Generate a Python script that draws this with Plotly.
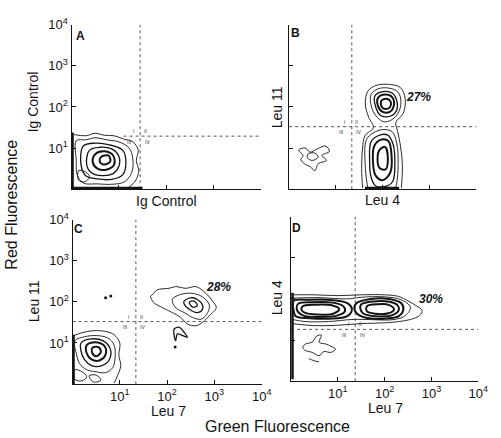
import numpy as np
import plotly.graph_objects as go

# ---------------- data (log10 fluorescence, decades) ----------------
PANELS = ["A", "B", "C", "D"]
X_TITLES = ["Ig Control", "Leu 4", "Leu 7", "Leu 7"]
Y_TITLES = ["Ig Control", "Leu 11", "Leu 11", "Leu 4"]
PERCENTS = ["", "27%", "28%", "30%"]
GATE_X = [1.45, 1.34, 1.34, 1.37]
GATE_Y = [1.29, 1.52, 1.52, 1.26]
GATE_H_START = [1.1, 0.0, 0.0, 0.0]
TICK_VALS = [10, 100, 1000, 10000]
TICK_TEXT = ["10<sup>1</sup>", "10<sup>2</sup>", "10<sup>3</sup>", "10<sup>4</sup>"]
QUAD_LABELS = ["I", "II", "III", "IV"]

# Panel A: Ig control / Ig control
A_R1 = [(0.04, 1.33), (0.3, 1.3), (0.5, 1.36), (0.7, 1.31), (0.9, 1.3), (1.1, 1.22), (1.3, 1.15),
        (1.41, 0.95), (1.37, 0.7), (1.42, 0.45), (1.35, 0.2), (1.22, 0.06)]
A_R2 = [(0.1, 1.18), (0.3, 1.2), (0.5, 1.25), (0.75, 1.2), (1.0, 1.15), (1.22, 1.0), (1.3, 0.7),
        (1.27, 0.4), (1.12, 0.18), (0.85, 0.12), (0.55, 0.13), (0.25, 0.15), (0.12, 0.35),
        (0.1, 0.7), (0.1, 1.18)]
A_R3 = [(0.25, 1.05), (0.5, 1.12), (0.8, 1.08), (1.08, 0.95), (1.15, 0.65), (1.08, 0.35),
        (0.85, 0.24), (0.55, 0.25), (0.3, 0.33), (0.2, 0.6), (0.25, 1.05)]
A_R4 = [(0.38, 0.95), (0.6, 1.02), (0.85, 0.98), (1.0, 0.8), (1.0, 0.55), (0.88, 0.38),
        (0.65, 0.33), (0.42, 0.4), (0.32, 0.6), (0.38, 0.95)]
A_R5 = [(0.5, 0.85), (0.7, 0.92), (0.88, 0.82), (0.9, 0.6), (0.75, 0.48), (0.55, 0.5),
        (0.45, 0.65), (0.5, 0.85)]
A_R6 = [(0.62, 0.78), (0.78, 0.82), (0.82, 0.68), (0.7, 0.6), (0.6, 0.66), (0.62, 0.78)]
A_R7 = [(0.15, 0.45), (0.3, 0.42), (0.38, 0.3), (0.28, 0.18), (0.15, 0.22), (0.15, 0.45)]
A_PILE_BOTTOM = [(0.0, 0.03), (1.5, 0.03)]
A_PILE_LEFT = [(0.02, 0.0), (0.02, 1.38)]

# Panel B: Leu 4 / Leu 11
B_OUTER = [(1.57, 0.03), (1.55, 0.5), (1.57, 1.0), (1.62, 1.3), (1.8, 1.5), (1.7, 1.75),
           (1.63, 2.05), (1.68, 2.38), (1.85, 2.52), (2.12, 2.55), (2.38, 2.47), (2.48, 2.2),
           (2.44, 1.85), (2.28, 1.62), (2.32, 1.4), (2.38, 1.05), (2.42, 0.6), (2.4, 0.03)]
B_U2 = [(1.75, 2.3), (1.9, 2.44), (2.12, 2.46), (2.33, 2.36), (2.39, 2.1), (2.33, 1.85),
        (2.18, 1.68), (2.02, 1.64), (1.86, 1.78), (1.76, 2.0), (1.75, 2.3)]
B_U3 = [(1.83, 2.26), (2.0, 2.37), (2.2, 2.34), (2.31, 2.1), (2.27, 1.86), (2.1, 1.76),
        (1.95, 1.8), (1.85, 2.0), (1.83, 2.26)]
B_U4 = [(1.9, 2.22), (2.05, 2.3), (2.2, 2.24), (2.24, 2.05), (2.15, 1.88), (2.0, 1.88),
        (1.9, 2.02), (1.9, 2.22)]
B_U5 = [(1.97, 2.15), (2.08, 2.2), (2.17, 2.13), (2.16, 2.0), (2.07, 1.95), (1.98, 2.0),
        (1.97, 2.15)]
B_L2 = [(1.68, 0.03), (1.63, 0.5), (1.65, 1.2), (1.8, 1.37), (2.0, 1.45), (2.2, 1.4),
        (2.3, 1.12), (2.33, 0.6), (2.3, 0.15), (2.27, 0.03)]
B_L3 = [(1.75, 1.15), (1.9, 1.3), (2.1, 1.32), (2.22, 1.1), (2.26, 0.6), (2.22, 0.2),
        (2.1, 0.08), (1.85, 0.08), (1.75, 0.3), (1.72, 0.7), (1.75, 1.15)]
B_L4 = [(1.82, 1.05), (1.95, 1.2), (2.12, 1.17), (2.19, 0.8), (2.16, 0.4), (2.0, 0.22),
        (1.85, 0.33), (1.79, 0.7), (1.82, 1.05)]
B_L5 = [(1.93, 0.95), (2.05, 1.03), (2.11, 0.75), (2.06, 0.48), (1.93, 0.52), (1.89, 0.75),
        (1.93, 0.95)]
B_S1 = [(0.2, 0.95), (0.35, 1.0), (0.45, 0.9), (0.6, 0.98), (0.78, 1.05), (0.86, 0.92),
        (0.7, 0.82), (0.8, 0.7), (0.62, 0.62), (0.55, 0.45), (0.45, 0.55), (0.35, 0.6),
        (0.25, 0.72), (0.3, 0.82), (0.2, 0.95)]
B_S2 = [(0.4, 0.85), (0.55, 0.88), (0.62, 0.78), (0.5, 0.7), (0.4, 0.75), (0.4, 0.85)]
B_PILE_BOTTOM = [(1.62, 0.03), (2.35, 0.03)]

# Panel C: Leu 7 / Leu 11
C_R1 = [(0.02, 1.18), (0.2, 1.25), (0.45, 1.3), (0.7, 1.28), (0.88, 1.2), (1.0, 1.0),
        (0.98, 0.7), (1.02, 0.45), (0.95, 0.2), (0.88, 0.03)]
C_R2 = [(0.05, 1.05), (0.25, 1.15), (0.5, 1.18), (0.75, 1.12), (0.88, 0.95), (0.9, 0.65),
        (0.85, 0.4), (0.7, 0.28), (0.5, 0.3), (0.3, 0.35), (0.15, 0.5), (0.08, 0.75),
        (0.05, 1.05)]
C_R3 = [(0.18, 1.0), (0.4, 1.1), (0.65, 1.05), (0.8, 0.85), (0.78, 0.6), (0.62, 0.45),
        (0.4, 0.45), (0.25, 0.6), (0.18, 0.8), (0.18, 1.0)]
C_R4 = [(0.3, 0.95), (0.5, 1.02), (0.68, 0.92), (0.7, 0.72), (0.58, 0.58), (0.4, 0.6),
        (0.3, 0.75), (0.3, 0.95)]
C_R5 = [(0.42, 0.88), (0.55, 0.9), (0.6, 0.78), (0.5, 0.68), (0.42, 0.75), (0.42, 0.88)]
C_R6 = [(0.05, 0.35), (0.2, 0.3), (0.3, 0.18), (0.2, 0.08), (0.05, 0.12), (0.05, 0.35)]
C_R7 = [(0.35, 0.2), (0.5, 0.22), (0.6, 0.1), (0.45, 0.05), (0.35, 0.2)]
C_U1 = [(1.69, 2.17), (1.79, 2.29), (2.04, 2.33), (2.18, 2.37), (2.4, 2.33), (2.61, 2.37),
        (2.82, 2.21), (2.96, 2.02), (3.04, 1.86), (2.89, 1.66), (2.75, 1.5), (2.61, 1.42),
        (2.43, 1.46), (2.29, 1.62), (2.11, 1.74), (1.9, 1.86), (1.72, 1.98), (1.65, 2.14),
        (1.69, 2.17)]
C_U2 = [(2.11, 2.06), (2.26, 2.17), (2.5, 2.21), (2.72, 2.14), (2.89, 1.94), (2.86, 1.74),
        (2.72, 1.58), (2.54, 1.62), (2.36, 1.74), (2.18, 1.86), (2.11, 2.06)]
C_U3 = [(2.36, 2.02), (2.54, 2.1), (2.72, 1.98), (2.75, 1.82), (2.64, 1.74), (2.47, 1.82),
        (2.36, 1.95), (2.36, 2.02)]
C_U4 = [(2.47, 1.99), (2.57, 2.02), (2.64, 1.91), (2.54, 1.87), (2.47, 1.99)]
C_S1 = [(2.15, 1.34), (2.26, 1.38), (2.36, 1.26), (2.43, 1.14), (2.33, 1.18), (2.22, 1.22),
        (2.18, 1.06), (2.15, 1.18), (2.15, 1.34)]
C_DOTS = [(0.7, 2.1), (0.81, 2.14), (2.17, 0.9)]
C_PILE_LEFT = [(0.02, 0.0), (0.02, 1.2)]

# Panel D: Leu 7 / Leu 4
D_R1 = [(0.02, 2.1), (0.5, 2.1), (1.0, 2.08), (1.5, 2.1), (2.0, 2.1), (2.3, 2.06),
        (2.5, 1.95), (2.65, 1.85), (2.8, 1.72), (2.75, 1.6), (2.55, 1.5), (2.3, 1.45),
        (2.0, 1.42), (1.5, 1.4), (1.0, 1.36), (0.5, 1.35), (0.02, 1.4)]
D_R2 = [(0.03, 2.02), (0.6, 2.03), (1.2, 2.0), (1.5, 2.04), (2.0, 2.05), (2.35, 1.98),
        (2.55, 1.8), (2.45, 1.6), (2.2, 1.5), (1.6, 1.5), (1.3, 1.5), (0.8, 1.45),
        (0.3, 1.45), (0.03, 1.5)]
D_L3 = [(0.05, 1.95), (0.4, 1.98), (0.9, 1.97), (1.2, 1.9), (1.3, 1.75), (1.2, 1.58),
        (0.8, 1.52), (0.4, 1.53), (0.1, 1.58), (0.05, 1.75), (0.05, 1.95)]
D_L4 = [(0.15, 1.88), (0.45, 1.92), (0.88, 1.91), (1.12, 1.82), (1.15, 1.7), (1.0, 1.6),
        (0.6, 1.56), (0.25, 1.6), (0.13, 1.72), (0.15, 1.88)]
D_L5 = [(0.25, 1.82), (0.5, 1.86), (0.85, 1.85), (1.03, 1.75), (0.9, 1.64), (0.55, 1.62),
        (0.3, 1.66), (0.22, 1.74), (0.25, 1.82)]
D_R3 = [(1.4, 1.9), (1.7, 2.0), (2.1, 2.0), (2.35, 1.9), (2.4, 1.75), (2.3, 1.58),
        (2.0, 1.52), (1.6, 1.54), (1.4, 1.65), (1.35, 1.78), (1.4, 1.9)]
D_R4 = [(1.5, 1.87), (1.75, 1.94), (2.1, 1.93), (2.28, 1.84), (2.3, 1.72), (2.15, 1.6),
        (1.8, 1.58), (1.55, 1.64), (1.48, 1.76), (1.5, 1.87)]
D_R5 = [(1.62, 1.82), (1.85, 1.87), (2.1, 1.85), (2.2, 1.75), (2.08, 1.65), (1.8, 1.64),
        (1.62, 1.7), (1.62, 1.82)]
D_S1 = [(0.3, 0.9), (0.45, 0.95), (0.55, 1.1), (0.65, 1.12), (0.6, 0.95), (0.75, 0.9),
        (0.85, 0.85), (0.95, 0.78), (0.85, 0.7), (0.7, 0.72), (0.6, 0.62), (0.45, 0.7),
        (0.3, 0.75), (0.25, 0.82), (0.3, 0.9)]
D_S2 = [(0.38, 0.55), (0.48, 0.5), (0.6, 0.47)]
D_PILE_LEFT = [(0.03, 0.05), (0.03, 2.15)]

# (panel index, contour, density level) ; level -> line weight
CONTOURS = [
    (0, A_R1, 1), (0, A_R2, 1), (0, A_R3, 2), (0, A_R4, 2), (0, A_R5, 3), (0, A_R6, 3), (0, A_R7, 1),
    (1, B_OUTER, 1), (1, B_U2, 1), (1, B_U3, 2), (1, B_U4, 3), (1, B_U5, 3),
    (1, B_L2, 1), (1, B_L3, 2), (1, B_L4, 3), (1, B_L5, 3), (1, B_S1, 1), (1, B_S2, 1),
    (2, C_R1, 1), (2, C_R2, 1), (2, C_R3, 2), (2, C_R4, 3), (2, C_R5, 3), (2, C_R6, 1), (2, C_R7, 1),
    (2, C_U1, 1), (2, C_U2, 1), (2, C_U3, 2), (2, C_U4, 2), (2, C_S1, 2),
    (3, D_R1, 1), (3, D_R2, 1), (3, D_L3, 3), (3, D_L4, 3), (3, D_L5, 3),
    (3, D_R3, 3), (3, D_R4, 3), (3, D_R5, 3), (3, D_S1, 1), (3, D_S2, 1),
]
PILEUPS = [(0, A_PILE_BOTTOM), (0, A_PILE_LEFT), (1, B_PILE_BOTTOM), (2, C_PILE_LEFT), (3, D_PILE_LEFT)]
DOTS = [(2, C_DOTS)]

# ---------------- styling / layout ----------------
FONT = "Liberation Sans Narrow, Liberation Sans, Arial, sans-serif"
INK = "#141414"
W, H = 501, 438
WIDTH_BY_LEVEL = {1: 0.9, 2: 1.3, 3: 2.0}

# plot boxes in pixels: (left, right, top, bottom)
BOXES = [(73, 266, 16, 184), (295, 486, 16, 184), (74, 267, 215, 383), (297, 488, 212, 380)]

fig = go.Figure()


def axref(i):
    return ("x" if i == 0 else f"x{i+1}", "y" if i == 0 else f"y{i+1}")


def add_line(i, pts, width, dash=None, shape="spline", color=INK):
    xr, yr = axref(i)
    xs = 10 ** np.array([p[0] for p in pts])
    ys = 10 ** np.array([p[1] for p in pts])
    fig.add_trace(go.Scatter(x=xs, y=ys, xaxis=xr, yaxis=yr, mode="lines",
                             line=dict(color=color, width=width, dash=dash, shape=shape,
                                       smoothing=1.0 if shape == "spline" else None),
                             hoverinfo="skip", showlegend=False))


for i in range(4):
    add_line(i, [(GATE_X[i], 0.0), (GATE_X[i], 4.0)], 1.0, dash="dot", shape="linear", color="#555")
    add_line(i, [(GATE_H_START[i], GATE_Y[i]), (4.0, GATE_Y[i])], 1.0, dash="dot", shape="linear", color="#555")

for i, pts, lvl in CONTOURS:
    add_line(i, pts, WIDTH_BY_LEVEL[lvl])

for i, pts in PILEUPS:
    add_line(i, pts, 2.6, shape="linear")

for i, pts in DOTS:
    xr, yr = axref(i)
    fig.add_trace(go.Scatter(x=10 ** np.array([p[0] for p in pts]), y=10 ** np.array([p[1] for p in pts]),
                             xaxis=xr, yaxis=yr, mode="markers",
                             marker=dict(color=INK, size=3), hoverinfo="skip", showlegend=False))

layout = dict(width=W, height=H, margin=dict(l=0, r=0, t=0, b=0),
              paper_bgcolor="white", plot_bgcolor="white",
              font=dict(family=FONT, color=INK, size=12), showlegend=False)

show_x_labels = [False, False, True, True]
show_y_labels = [True, False, True, False]
for i, (l, r, t, b) in enumerate(BOXES):
    xk = "xaxis" if i == 0 else f"xaxis{i+1}"
    yk = "yaxis" if i == 0 else f"yaxis{i+1}"
    xr, yr = axref(i)
    common = dict(type="log", range=[0, 4], showgrid=False, zeroline=False, showline=True,
                  linecolor=INK, linewidth=1.2, ticks="inside", ticklen=4, tickwidth=1,
                  tickcolor=INK, tickvals=TICK_VALS, ticktext=TICK_TEXT,
                  tickfont=dict(family=FONT, size=13, color=INK), fixedrange=True)
    layout[xk] = dict(common, domain=[l / W, r / W], anchor=yr, showticklabels=show_x_labels[i])
    layout[yk] = dict(common, domain=[1 - b / H, 1 - t / H], anchor=xr, showticklabels=show_y_labels[i])
fig.update_layout(**layout)


def ann(text, px, py, size, angle=0, bold=False, italic=False):
    if bold:
        text = f"<b>{text}</b>"
    if italic:
        text = f"<i>{text}</i>"
    fig.add_annotation(text=text, x=px / W, y=1 - py / H, xref="paper", yref="paper",
                       showarrow=False, xanchor="center", yanchor="middle", textangle=angle,
                       font=dict(family=FONT, size=size, color=INK))


LETTER_POS = [(82, 28), (302, 25), (80, 225), (303, 224)]
XT_POS = [(170, 196), (390, 195), (172, 410), (393, 407)]
YT_POS = [(34, 95), (283, 100), (35, 298), (283, 295)]
PCT_POS = [None, (427, 90), (223, 284), (440, 296)]
for i in range(4):
    ann(PANELS[i], *LETTER_POS[i], 12, bold=True)
    ann(X_TITLES[i], *XT_POS[i], 14)
    ann(Y_TITLES[i], *YT_POS[i], 14, angle=-90)
    if PERCENTS[i]:
        ann(PERCENTS[i], *PCT_POS[i], 12, bold=True, italic=True)
    xr, yr = axref(i)
    offs = [(-0.15, 0.12), (0.11, 0.12), (-0.24, -0.14), (0.15, -0.14)]
    for q, (dx, dy) in zip(QUAD_LABELS, offs):
        fig.add_annotation(text=q, x=GATE_X[i] + dx, y=GATE_Y[i] + dy, xref=xr, yref=yr,
                           showarrow=False, font=dict(family=FONT, size=5, color="#333"))

ann("Red Fluorescence", 12, 200, 16, angle=-90)
ann("Green Fluorescence", 283, 426, 16)

fig.write_html("out.html", config={"displayModeBar": False},
               post_script="document.body.style.margin='0px';document.body.style.overflow='hidden';")
